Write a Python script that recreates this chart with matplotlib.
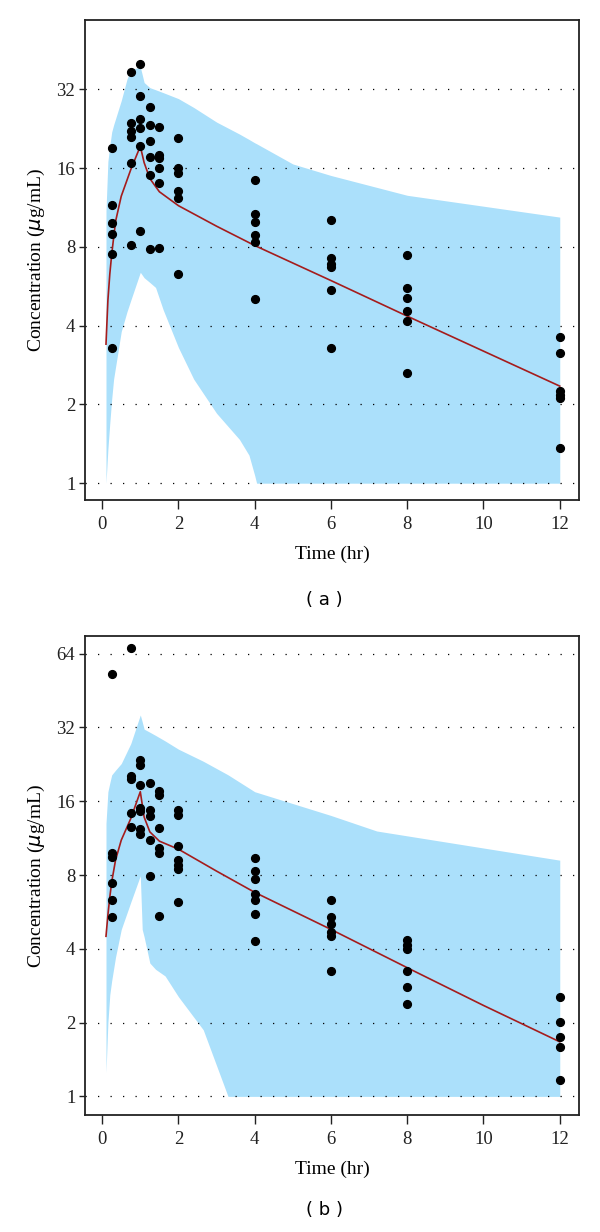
import numpy as np
import matplotlib
matplotlib.use("Agg")
from matplotlib import pyplot as plt
from matplotlib.ticker import FixedLocator, NullLocator

plt.rcParams["font.family"] = ["Liberation Serif", "DejaVu Serif"]

band_color = "#ABE0FB"
line_color = "#A51C1C"

# ---- panel (a) ----
obs_time_a = [0.25, 0.75, 1.0, 1.25, 1.5, 2.0, 4.0, 6.0, 8.0, 12.0]
obs_conc_a = [
    [19.1, 11.6, 9.85, 8.94, 7.5, 3.29],
    [37.3, 23.9, 22.1, 21.0, 16.8, 8.17],
    [39.9, 30.2, 24.6, 22.8, 19.4, 9.2],
    [27.5, 23.3, 20.4, 17.6, 15.1, 7.87],
    [22.9, 17.9, 17.5, 16.0, 14.1, 7.94],
    [20.8, 16.0, 15.35, 13.1, 12.3, 6.31],
    [14.4, 10.7, 9.97, 8.91, 8.35, 5.07],
    [10.1, 7.24, 6.91, 6.68, 5.46, 3.30],
    [7.45, 5.59, 5.09, 4.54, 4.17, 2.63],
    [3.62, 3.14, 2.25, 2.18, 2.12, 1.36],
]
med_time_a = [0.1, 0.15, 0.2, 0.25, 0.35, 0.5, 0.75, 1.0, 1.1, 1.25, 1.5, 2.0, 3.0, 4.0, 6.0, 8.0, 12.0]
med_conc_a = [3.4, 5.0, 6.3, 7.5, 10.0, 12.5, 15.8, 19.4, 16.8, 14.6, 13.0, 11.5, 9.6, 8.1, 5.95, 4.35, 2.35]
up_time_a = [0.1, 0.15, 0.25, 0.5, 0.65, 0.75, 1.0, 1.1, 1.25, 2.0, 3.0, 4.0, 5.0, 6.0, 8.0, 12.0]
up_conc_a = [11.0, 17.0, 22.0, 29.0, 35.0, 38.0, 39.0, 34.0, 32.5, 29.5, 24.0, 20.0, 16.6, 15.0, 12.6, 10.4]
lo_time_a = [0.1, 0.2, 0.3, 0.5, 0.75, 1.0, 1.1, 1.4, 1.6, 2.0, 2.4, 3.0, 3.6, 3.85, 4.05, 12.0]
lo_conc_a = [1.0, 1.7, 2.5, 3.8, 5.0, 6.4, 6.1, 5.6, 4.6, 3.3, 2.5, 1.85, 1.47, 1.28, 1.0, 1.0]
yticks_a = [1, 2, 4, 8, 16, 32]

# ---- panel (b) ----
obs_time_b = [0.25, 0.75, 1.0, 1.25, 1.5, 2.0, 4.0, 6.0, 8.0, 12.0]
obs_conc_b = [
    [53.1, 9.8, 9.45, 7.4, 6.3, 5.4],
    [67.7, 20.3, 19.7, 14.3, 12.6],
    [23.6, 22.4, 18.6, 15.0, 14.6, 12.3, 11.8],
    [19.0, 14.8, 13.9, 11.1, 7.95],
    [17.6, 17.0, 12.5, 10.3, 9.8, 5.45],
    [14.8, 14.0, 10.5, 9.24, 8.8, 8.49, 6.19],
    [9.4, 8.3, 7.7, 6.7, 6.3, 5.55, 4.29],
    [6.35, 5.4, 5.05, 4.7, 4.5, 3.25],
    [4.33, 4.16, 4.0, 3.24, 2.79, 2.38],
    [2.54, 2.01, 1.75, 1.59, 1.17],
]
med_time_b = [0.1, 0.15, 0.2, 0.25, 0.35, 0.5, 0.75, 1.0, 1.1, 1.25, 1.5, 2.0, 3.0, 4.0, 6.0, 8.0, 10.0, 12.0]
med_conc_b = [4.5, 5.5, 6.5, 7.5, 9.2, 11.1, 13.6, 17.5, 13.8, 12.0, 11.0, 10.2, 8.3, 6.8, 4.8, 3.35, 2.35, 1.67]
up_time_b = [0.1, 0.15, 0.25, 0.5, 0.75, 1.0, 1.1, 2.0, 4.0, 6.0, 7.2, 12.0]
up_conc_b = [13.0, 17.5, 20.5, 22.8, 27.5, 36.0, 31.5, 26.1, 17.5, 14.0, 12.1, 9.2]
lo_time_b = [0.1, 0.15, 0.2, 0.35, 0.5, 0.75, 1.0, 1.05, 1.25, 1.4, 1.65, 2.0, 2.65, 3.3, 12.0]
lo_conc_b = [1.25, 2.0, 2.6, 3.7, 4.8, 6.2, 7.95, 4.8, 3.5, 3.3, 3.1, 2.55, 1.87, 1.0, 1.0]
yticks_b = [1, 2, 4, 8, 16, 32, 64]

xticks = [0, 2, 4, 6, 8, 10, 12]


def draw_panel(ax, obs_t, obs_c, med_t, med_c, up_t, up_c, lo_t, lo_c, yticks, ylim):
    # shaded prediction band
    tt = np.unique(np.concatenate([up_t, lo_t]))
    up = np.interp(tt, up_t, up_c)
    lo = np.interp(tt, lo_t, lo_c)
    ax.fill_between(tt, lo, up, color=band_color, linewidth=0, zorder=1)
    for v in yticks:
        ax.axhline(v, color="black", linestyle=(0, (1, 9)), linewidth=0.9, zorder=2)
    ax.plot(med_t, med_c, color=line_color, linewidth=1.2, zorder=3)
    for t, cs in zip(obs_t, obs_c):
        ax.plot([t] * len(cs), cs, "o", color="black", markersize=5.6, linestyle="none", zorder=4)
    ax.set_yscale("log", base=2)
    ax.set_ylim(*ylim)
    ax.set_xlim(-0.45, 12.5)
    ax.yaxis.set_major_locator(FixedLocator(yticks))
    ax.yaxis.set_minor_locator(NullLocator())
    ax.set_yticklabels([str(v) for v in yticks])
    ax.set_xticks(xticks)
    ax.tick_params(axis="both", labelsize=13.5, direction="out", width=1.0, colors="#222222")
    ax.tick_params(axis="y", length=4, pad=3)
    ax.tick_params(axis="x", length=6.5, pad=5)
    for s in ax.spines.values():
        s.set_linewidth(1.3)
        s.set_color("#222222")
    ax.set_xlabel("Time (hr)", fontsize=14, labelpad=9)
    ax.set_ylabel("Concentration ($\\mu$g/mL)", fontsize=14, labelpad=7)


fig = plt.figure(figsize=(6, 12.32), dpi=100)
ax_a = fig.add_axes([0.1417, 0.5942, 0.823, 0.3892])
ax_b = fig.add_axes([0.1417, 0.0950, 0.823, 0.3888])

draw_panel(ax_a, obs_time_a, obs_conc_a, med_time_a, med_conc_a, up_time_a, up_conc_a,
           lo_time_a, lo_conc_a, yticks_a, (0.863, 58.7))
draw_panel(ax_b, obs_time_b, obs_conc_b, med_time_b, med_conc_b, up_time_b, up_conc_b,
           lo_time_b, lo_conc_b, yticks_b, (0.84, 75.6))

fig.text(0.54, 1 - 600 / 1232, "( a )", ha="center", va="center", fontsize=13, family="DejaVu Sans")
fig.text(0.54, 1 - 1210 / 1232, "( b )", ha="center", va="center", fontsize=13, family="DejaVu Sans")

fig.savefig("out.png", dpi=100)
